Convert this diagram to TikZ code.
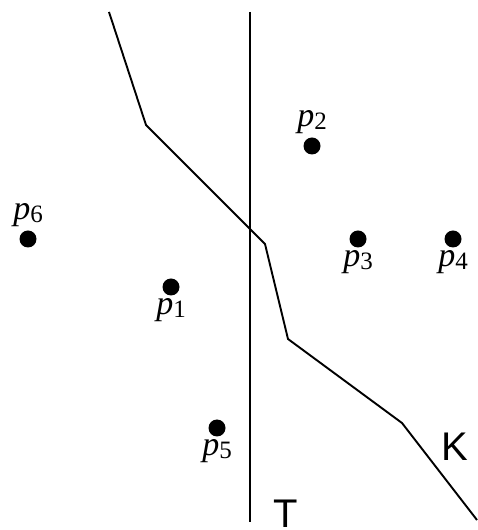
\documentclass[tikz,border=0pt]{standalone}
\usepackage{fontspec}
\setmainfont{Liberation Serif}
\newfontfamily\regionfont{Liberation Sans}
\usetikzlibrary{positioning}

\newcommand{\sitename}[1]{\fontsize{34}{38}\selectfont\textit{p}\raisebox{-3pt}{\fontsize{25}{29}\selectfont #1}}

\begin{document}
\begin{tikzpicture}[x=1pt, y=1pt,
    site/.style={circle, fill=black, inner sep=0pt, minimum size=17pt},
    sitelabel/.style={inner sep=0pt},
    region/.style={inner sep=0pt, font=\regionfont\fontsize{40}{44}\selectfont},
    cut/.style={draw, line width=1.2pt},
    border/.style={draw, line width=1.9pt, line join=miter}]

    \useasboundingbox (0,0) rectangle (477,530);

    \node [site] (p1) at (171,243) {};
    \node [site] (p2) at (312,384) {};
    \node [site] (p3) at (358,291) {};
    \node [site] (p4) at (453,291) {};
    \node [site] (p5) at (217,102) {};
    \node [site] (p6) at (28,291) {};

    \node [sitelabel, below=3pt of p1] (p1label) {\sitename{1}};
    \node [sitelabel, above=3.5pt of p2] (p2label) {\sitename{2}};
    \node [sitelabel, below=3pt of p3] (p3label) {\sitename{3}};
    \node [sitelabel, below=3pt of p4] (p4label) {\sitename{4}};
    \node [sitelabel, below=3pt of p5] (p5label) {\sitename{5}};
    \node [sitelabel, above=3.5pt of p6] (p6label) {\sitename{6}};

    \coordinate (ttop) at (250,518);
    \coordinate (tbot) at (250,8);
    \path [cut] (ttop) -- (tbot);
    \node [region, anchor=north] (tname) at (286,30) {T};

    \coordinate (k0) at (109,518);
    \coordinate (k1) at (146,405);
    \coordinate (k2) at (265,286);
    \coordinate (k3) at (288,191);
    \coordinate (k4) at (402,107);
    \coordinate (k5) at (477,10);
    \path [border] (k0) -- (k1) -- (k2) -- (k3) -- (k4) -- (k5);
    \node [region] (kname) at (455,83) {K};
\end{tikzpicture}
\end{document}
